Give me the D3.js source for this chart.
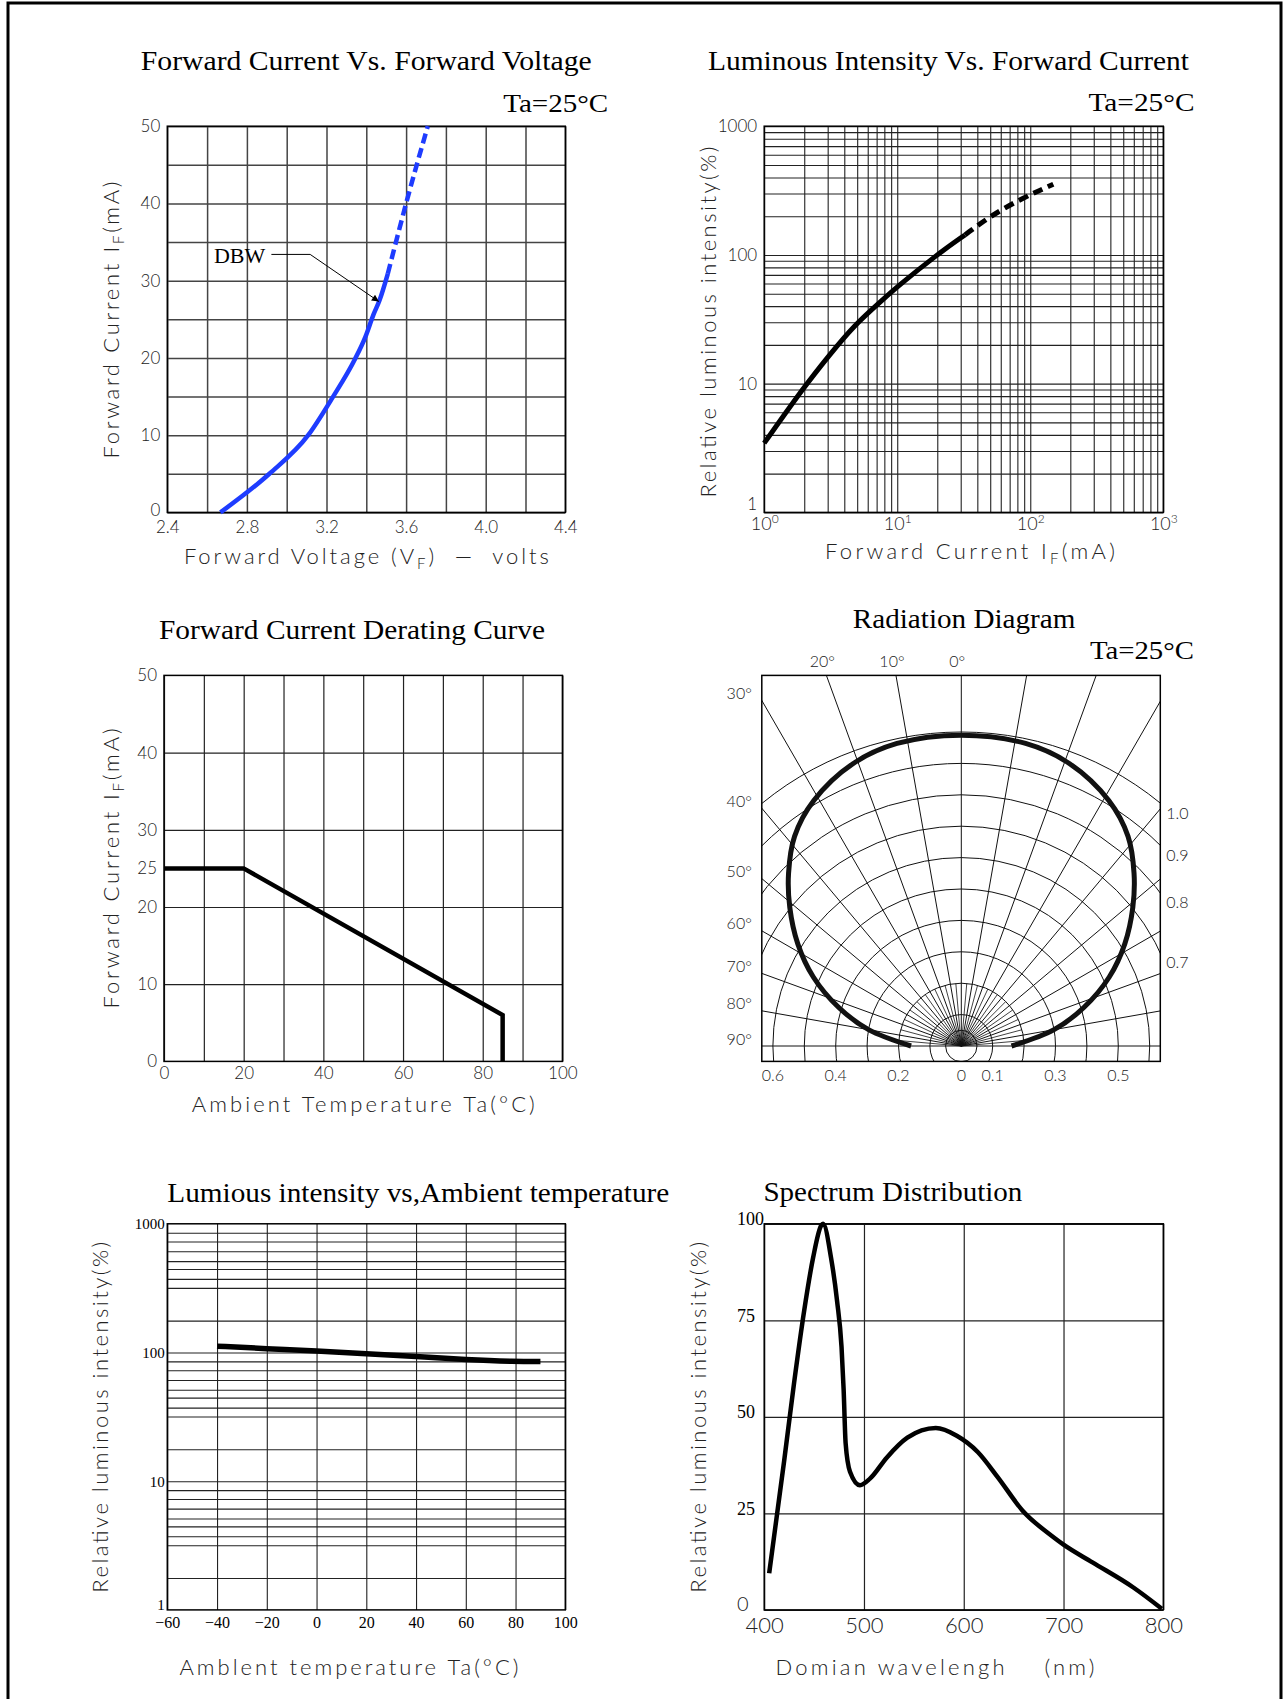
<!DOCTYPE html>
<html>
<head>
<meta charset="utf-8">
<script src="https://cdn.jsdelivr.net/npm/d3@7"></script>
<style>
  body { margin: 0; background: #fff; }
  .serif { font-family: "Liberation Serif", "Times New Roman", serif; fill: #000; }
  .sans { font-family: Lato, "DejaVu Sans", sans-serif; font-weight: 300; fill: #222; white-space: pre; }
</style>
</head>
<body>
<svg id="chart" width="1285" height="1699"></svg>
<script>
// ---- data ----
// forward current vs forward voltage
const FV_V = [2.667, 2.913, 3.108, 3.231, 3.344, 3.395, 3.436, 3.467, 3.508]
const FV_I = [0, 5, 10, 14.9, 19.9, 22.7, 25.6, 27.5, 30.9]
const FV_DASH_V = [3.508, 3.549, 3.6, 3.709]
const FV_DASH_I = [30.9, 35, 40, 50]
const FV_XTICKS = [2.4, 2.8, 3.2, 3.6, 4.0, 4.4]
const FV_YTICKS = [0, 10, 20, 30, 40, 50]

// luminous intensity vs forward current
const LI_I = [1.0, 2.0, 3.08, 4.72, 7.78, 10, 19.6, 32.3]
const LI_L = [3.45, 9.5, 16.6, 28.3, 44.9, 56.6, 99.4, 143]
const LI_DASH_I = [32.3, 49.5, 87.5, 149]
const LI_DASH_L = [143, 199, 277, 354]
const LI_TICKS = [1, 10, 100, 1000]

// derating curve
const DR_T = [0, 20, 85, 85]
const DR_I = [25, 25, 6, 0]
const DR_XTICKS = [0, 20, 40, 60, 80, 100]
const DR_YTICKS = [0, 10, 20, 25, 30, 40, 50]
const DR_YGRID = [10, 20, 30, 40]

// radiation diagram (angle in degrees, relative intensity)
const RAD_ANG = [-90, -80, -72.5, -65, -58, -51, -45, -38.5, -31, -21, -12, 0, 12, 21, 31, 38.5, 45, 51, 58, 65, 72.5, 80, 90]
const RAD_VAL = [0.16, 0.30, 0.41, 0.52, 0.614, 0.703, 0.778, 0.853, 0.912, 0.963, 0.985, 0.99, 0.985, 0.963, 0.912, 0.853, 0.778, 0.703, 0.614, 0.52, 0.41, 0.30, 0.16]
const RAD_TOP = [20, 10, 0]
const RAD_LEFT = [30, 40, 50, 60, 70, 80, 90]
const RAD_RIGHT = [1.0, 0.9, 0.8, 0.7]
const RAD_BOTTOM = [-0.6, -0.4, -0.2, 0, 0.1, 0.3, 0.5]

// luminous intensity vs ambient temperature
const LT_T = [-40, -20, 0, 20, 40, 60, 80, 90]
const LT_L = [112, 107, 103, 98, 93, 88, 85, 85]
const LT_XTICKS = [-60, -40, -20, 0, 20, 40, 60, 80, 100]
const LT_YTICKS = [1, 10, 100, 1000]
const LT_MINOR = [1.77, 3.18, 3.73, 4.46, 5.13, 6.12, 7.28, 8.53] // grid lines inside each decade

// spectrum
const SP_W = [405, 420, 430, 440, 449, 457, 459, 467, 473, 477.5, 479.6, 481.6, 486, 496, 506, 523, 543.5, 572, 593, 614, 634, 659, 688, 700, 729, 770, 798.5]
const SP_I = [9.5, 38.6, 58.9, 77.4, 91.2, 99.5, 100, 91.2, 80.1, 68.1, 57.1, 43.2, 35.8, 32.3, 34, 39.5, 44.6, 47.1, 45.1, 40.9, 34.4, 25.7, 19.2, 16.9, 12.3, 5.8, 0.3]
const SP_XTICKS = [400, 500, 600, 700, 800]
const SP_YTICKS = [0, 25, 50, 75, 100]

const svg = d3.select('#chart')

// outer frame (open at the bottom)
svg.append('path')
  .attr('d', 'M8,1699 V3 H1281 V1699')
  .attr('fill', 'none').attr('stroke', '#000').attr('stroke-width', 3)

svg.append('defs').append('marker')
  .attr('id', 'arrow').attr('viewBox', '0 0 10 10')
  .attr('refX', 10).attr('refY', 5)
  .attr('markerWidth', 9).attr('markerHeight', 7)
  .attr('markerUnits', 'userSpaceOnUse')
  .attr('orient', 'auto')
  .append('path').attr('d', 'M0,0 L10,5 L0,10 z').attr('fill', '#000')

function panel(x0, y0) {
  return svg.append('g').attr('transform', `translate(${x0},${y0})`)
}

function gridX(g, x, vals, h, color, sw) {
  g.append('g').attr('transform', `translate(0,${h})`)
    .call(d3.axisBottom(x).tickValues(vals).tickSize(-h).tickFormat(''))
    .call(s => s.select('.domain').remove())
    .selectAll('line').attr('stroke', color).attr('stroke-width', sw)
}

function gridY(g, y, vals, w, color, sw) {
  g.append('g')
    .call(d3.axisLeft(y).tickValues(vals).tickSize(-w).tickFormat(''))
    .call(s => s.select('.domain').remove())
    .selectAll('line').attr('stroke', color).attr('stroke-width', sw)
}

function box(g, w, h) {
  g.append('rect').attr('width', w).attr('height', h)
    .attr('fill', 'none').attr('stroke', '#000').attr('stroke-width', 1.5)
}

function labels(g, axis, cls, size, h) {
  const a = g.append('g')
  if (h != null) a.attr('transform', `translate(0,${h})`)
  a.call(axis.tickSize(0))
  a.select('.domain').remove()
  a.attr('font-family', null).attr('font-size', null)
  a.selectAll('text').attr('class', cls).attr('font-size', size)
  return a
}

function title(txt, x, y, size, len, anchor) {
  svg.append('text').attr('class', 'serif')
    .attr('x', x).attr('y', y).attr('font-size', size)
    .attr('text-anchor', anchor || 'middle')
    .attr('textLength', len).attr('lengthAdjust', 'spacingAndGlyphs')
    .text(txt)
}

// sans axis title, parts: [text, isSubscript]
function axisTitle(parts, x, y, len, rotate) {
  const t = svg.append('text').attr('class', 'sans')
    .attr('font-size', 22).attr('text-anchor', 'middle')
    .attr('transform', `translate(${x},${y})` + (rotate ? ' rotate(-90)' : ''))
    .attr('textLength', len).attr('lengthAdjust', 'spacing')
  let prevSub = false
  parts.forEach(([s, sub]) => {
    const sp = t.append('tspan').text(s)
    if (sub) sp.attr('font-size', 15).attr('dy', 5)
    else if (prevSub) sp.attr('dy', -5)
    prevSub = !!sub
  })
}

const lineXY = (x, y, xs, ys) => d3.line().x((d, i) => x(xs[i])).y((d, i) => y(ys[i]))

// ================= panel 1 : forward current vs forward voltage =================
{
  const x0 = 167.3, y0 = 126.2, w = 398, h = 386.2
  const g = panel(x0, y0)
  const x = d3.scaleLinear().domain([2.4, 4.4]).range([0, w])
  const y = d3.scaleLinear().domain([0, 50]).range([h, 0])
  gridX(g, x, x.ticks(10), h, '#444', 1.5)
  gridY(g, y, y.ticks(10), w, '#444', 1.5)
  box(g, w, h)
  const ly = labels(g, d3.axisLeft(y).tickValues(FV_YTICKS).tickPadding(7), 'sans', 17)
  ly.selectAll('.tick').filter(d => d === 0).select('text').attr('dy', '0.2em')
  labels(g, d3.axisBottom(x).tickValues(FV_XTICKS).tickPadding(9).tickFormat(d3.format('.1f')), 'sans', 17, h)

  g.append('path')
    .attr('d', lineXY(x, y, FV_V, FV_I).curve(d3.curveMonotoneX)(FV_V))
    .attr('fill', 'none').attr('stroke', '#1e3cff').attr('stroke-width', 4.5)
  g.append('path')
    .attr('d', lineXY(x, y, FV_DASH_V, FV_DASH_I).curve(d3.curveMonotoneX)(FV_DASH_V))
    .attr('fill', 'none').attr('stroke', '#1e3cff').attr('stroke-width', 4.5)
    .attr('stroke-dasharray', '10,5')

  // DBW leader
  g.append('path')
    .attr('d', d3.line()([[x(2.923), y(33.4)], [x(3.118), y(33.4)], [x(3.463), y(27.3)]]))
    .attr('fill', 'none').attr('stroke', '#000').attr('stroke-width', 1)
    .attr('marker-end', 'url(#arrow)')
  g.append('text').attr('class', 'serif').attr('font-size', 22)
    .attr('x', x(2.892)).attr('y', y(32.3)).attr('text-anchor', 'end').text('DBW')

  title('Forward Current Vs. Forward Voltage', 366.3, 69.6, 28, 451)
  title('Ta=25°C', 608.2, 111.7, 26, 105, 'end')
  axisTitle([['Forward Current I'], ['F', 1], ['(mA)']], 119, 320, 277, true)
  axisTitle([['Forward Voltage (V'], ['F', 1], [')  —  volts']], 366.4, 564.2, 365)
}

// ================= panel 2 : luminous intensity vs forward current =================
{
  const x0 = 764.2, y0 = 126.2, w = 399.1, h = 386.2
  const g = panel(x0, y0)
  const x = d3.scaleLog().domain([1, 1000]).range([0, w])
  const y = d3.scaleLog().domain([1, 1000]).range([h, 0])
  gridX(g, x, x.ticks(), h, '#222', 1.1)
  gridY(g, y, y.ticks(), w, '#222', 1.1)
  box(g, w, h)
  const ly = labels(g, d3.axisLeft(y).tickValues(LI_TICKS).tickPadding(7).tickFormat(d3.format('d')), 'sans', 17)
  ly.selectAll('.tick').filter(d => d === 1).select('text').attr('dy', '-0.15em')
  const lx = labels(g, d3.axisBottom(x).tickValues(LI_TICKS).tickPadding(5).tickFormat(''), 'sans', 18, h)
  lx.selectAll('.tick text').each(function (d) {
    const t = d3.select(this)
    t.append('tspan').text('10')
    t.append('tspan').attr('font-size', 12).attr('dy', -7).text(Math.round(Math.log10(d)))
  })

  g.append('path')
    .attr('d', lineXY(x, y, LI_I, LI_L).curve(d3.curveBasis)(LI_I))
    .attr('fill', 'none').attr('stroke', '#000').attr('stroke-width', 5)
  g.append('path')
    .attr('d', lineXY(x, y, LI_DASH_I, LI_DASH_L).curve(d3.curveBasis)(LI_DASH_I))
    .attr('fill', 'none').attr('stroke', '#000').attr('stroke-width', 5)
    .attr('stroke-dasharray', '10,6')

  title('Luminous Intensity Vs. Forward Current', 948.5, 70.3, 28, 481)
  title('Ta=25°C', 1194.5, 111, 26, 106, 'end')
  axisTitle([['Relative luminous intensity(%)']], 716, 322, 351, true)
  axisTitle([['Forward Current I'], ['F', 1], ['(mA)']], 970, 558.6, 290)
}

// ================= panel 3 : derating curve =================
{
  const x0 = 164, y0 = 675.4, w = 398.4, h = 386
  const g = panel(x0, y0)
  const x = d3.scaleLinear().domain([0, 100]).range([0, w])
  const y = d3.scaleLinear().domain([0, 50]).range([h, 0])
  gridX(g, x, x.ticks(10), h, '#222', 1.2)
  gridY(g, y, DR_YGRID, w, '#222', 1.2)
  box(g, w, h)
  labels(g, d3.axisLeft(y).tickValues(DR_YTICKS).tickPadding(7), 'sans', 17)
  labels(g, d3.axisBottom(x).tickValues(DR_XTICKS).tickPadding(6), 'sans', 17, h)

  g.append('path')
    .attr('d', lineXY(x, y, DR_T, DR_I)(DR_T))
    .attr('fill', 'none').attr('stroke', '#000').attr('stroke-width', 4.5)
    .attr('stroke-linejoin', 'miter')

  title('Forward Current Derating Curve', 352, 638.9, 27, 386)
  axisTitle([['Forward Current I'], ['F', 1], ['(mA)']], 119, 868.4, 280, true)
  axisTitle([['Ambient Temperature Ta(°C)']], 363.3, 1112.1, 343)
}

// ================= panel 4 : radiation diagram =================
{
  const bx0 = 761.8, by0 = 675.4, bw = 398.5, bh = 386
  const cx = 961.3, cy = 1046
  const r = d3.scaleLinear().domain([0, 1]).range([0, 314])

  svg.append('clipPath').attr('id', 'radclip')
    .append('rect').attr('x', bx0).attr('y', by0).attr('width', bw).attr('height', bh)

  const gg = svg.append('g').attr('clip-path', 'url(#radclip)')
    .append('g').attr('transform', `translate(${cx},${cy})`)

  // concentric circles
  gg.selectAll('circle.ring').data(r.ticks(10).filter(d => d > 0).concat([0.05]))
    .join('circle').attr('r', d => r(d))
    .attr('fill', 'none').attr('stroke', '#111').attr('stroke-width', 1)

  // radial lines every 10 degrees, short ones every 5 near the centre
  const rad = d => d * Math.PI / 180
  gg.selectAll('line.spoke').data(d3.range(-90, 91, 10))
    .join('line')
    .attr('x2', d => r(1.4) * Math.sin(rad(d)))
    .attr('y2', d => -r(1.4) * Math.cos(rad(d)))
    .attr('stroke', '#111').attr('stroke-width', 1)
  gg.selectAll('line.minor').data(d3.range(-85, 90, 10))
    .join('line')
    .attr('x2', d => r(0.2) * Math.sin(rad(d)))
    .attr('y2', d => -r(0.2) * Math.cos(rad(d)))
    .attr('stroke', '#111').attr('stroke-width', 0.8)

  // radiation pattern
  gg.append('path')
    .attr('d', d3.lineRadial()
      .angle((d, i) => rad(RAD_ANG[i]))
      .radius((d, i) => r(RAD_VAL[i]))
      .curve(d3.curveCatmullRom.alpha(0.5))(RAD_ANG))
    .attr('fill', 'none').attr('stroke', '#111').attr('stroke-width', 5)

  svg.append('rect').attr('x', bx0).attr('y', by0).attr('width', bw).attr('height', bh)
    .attr('fill', 'none').attr('stroke', '#000').attr('stroke-width', 1.5)

  const dxL = cx - bx0, dxR = bx0 + bw - cx, dyT = cy - by0
  svg.selectAll('text.rtop').data(RAD_TOP).join('text')
    .attr('class', 'sans').attr('font-size', 16).attr('text-anchor', 'middle')
    .attr('x', d => cx - dyT * Math.tan(rad(d)) - 4).attr('y', by0 - 8)
    .text(d => d + '°')
  svg.selectAll('text.rleft').data(RAD_LEFT).join('text')
    .attr('class', 'sans').attr('font-size', 16).attr('text-anchor', 'end')
    .attr('x', bx0 - 10)
    .attr('y', d => cy - dxL / Math.tan(rad(d)) - 7).attr('dy', '0.35em')
    .text(d => d + '°')
  svg.selectAll('text.rright').data(RAD_RIGHT).join('text')
    .attr('class', 'sans').attr('font-size', 16)
    .attr('x', bx0 + bw + 6)
    .attr('y', d => cy - Math.sqrt(r(d) * r(d) - dxR * dxR) + 10).attr('dy', '0.35em')
    .text(d3.format('.1f'))
  svg.selectAll('text.rbot').data(RAD_BOTTOM).join('text')
    .attr('class', 'sans').attr('font-size', 16).attr('text-anchor', 'middle')
    .attr('x', d => cx + r(d)).attr('y', by0 + bh + 14).attr('dy', '0.35em')
    .text(d => d === 0 ? '0' : d3.format('.1f')(Math.abs(d)))

  title('Radiation Diagram', 964.1, 628.2, 27, 222.6)
  title('Ta=25°C', 1193.9, 659.3, 26, 104, 'end')
}

// ================= panel 5 : luminous intensity vs ambient temperature =================
{
  const x0 = 167.3, y0 = 1223.8, w = 398, h = 386.1
  const g = panel(x0, y0)
  const x = d3.scaleLinear().domain([-60, 100]).range([0, w])
  const y = d3.scaleLog().domain([1, 1000]).range([h, 0])
  const minor = [1, 10, 100].flatMap(dec => LT_MINOR.map(m => m * dec)).concat([10, 100])
  gridX(g, x, x.ticks(8), h, '#222', 1.1)
  gridY(g, y, minor, w, '#222', 1.1)
  box(g, w, h)
  const ly = labels(g, d3.axisLeft(y).tickValues(LT_YTICKS).tickPadding(2.5).tickFormat(d3.format('d')), 'serif', 15)
  ly.selectAll('.tick').filter(d => d === 1).select('text').attr('dy', '-0.05em')
  labels(g, d3.axisBottom(x).tickValues(LT_XTICKS).tickPadding(7).tickFormat(d => d < 0 ? '−' + Math.abs(d) : d), 'serif', 16, h)

  g.append('path')
    .attr('d', lineXY(x, y, LT_T, LT_L).curve(d3.curveBasis)(LT_T))
    .attr('fill', 'none').attr('stroke', '#000').attr('stroke-width', 5.5)

  title('Lumious intensity vs,Ambient temperature', 167.3, 1202.4, 27, 502, 'start')
  axisTitle([['Relative luminous intensity(%)']], 108.2, 1417.2, 351, true)
  axisTitle([['Amblent temperature Ta(°C)']], 349, 1674.8, 339)
}

// ================= panel 6 : spectrum distribution =================
{
  const x0 = 764.2, y0 = 1223.8, w = 399.1, h = 386.1
  const g = panel(x0, y0)
  const x = d3.scaleLinear().domain([400, 800]).range([0, w])
  const y = d3.scaleLinear().domain([0, 100]).range([h, 0])
  gridX(g, x, SP_XTICKS, h, '#222', 1.2)
  gridY(g, y, SP_YTICKS, w, '#222', 1.2)
  box(g, w, h)
  const ly = labels(g, d3.axisLeft(y).tickValues(SP_YTICKS).tickPadding(0), 'serif', 18)
  ly.selectAll('text').attr('text-anchor', 'start').attr('x', 737 - x0).attr('dy', '0.05em')
  ly.selectAll('.tick').filter(d => d === 0).select('text').attr('class', 'sans').attr('font-size', 20)
  labels(g, d3.axisBottom(x).tickValues(SP_XTICKS).tickPadding(7), 'sans', 22, h)

  g.append('path')
    .attr('d', lineXY(x, y, SP_W, SP_I).curve(d3.curveMonotoneX)(SP_W))
    .attr('fill', 'none').attr('stroke', '#000').attr('stroke-width', 4.5)

  title('Spectrum Distribution', 763.4, 1201.3, 27, 259, 'start')
  axisTitle([['Relative luminous intensity(%)']], 705.8, 1417.2, 351, true)
  axisTitle([['Domian wavelengh    (nm)']], 935, 1674.8, 319)
}
</script>
</body>
</html>
